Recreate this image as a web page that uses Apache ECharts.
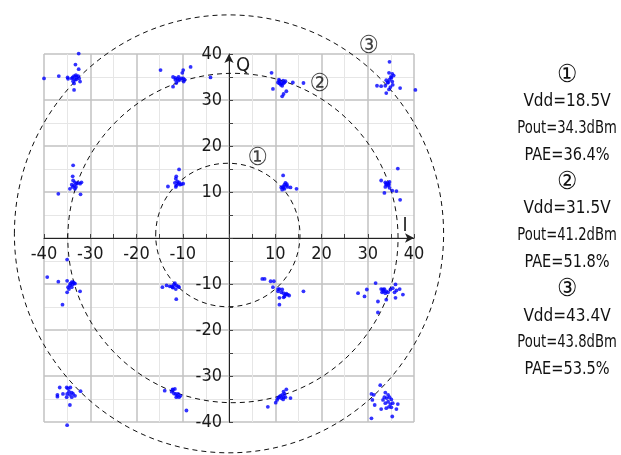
<!DOCTYPE html>
<html>
<head>
<meta charset="utf-8">
<script src="https://cdn.jsdelivr.net/npm/echarts@6/dist/echarts.min.js"></script>
<style>html,body{margin:0;padding:0;background:#fff}#c{width:621px;height:455px}</style>
</head>
<body>
<div id="c"></div>
<script>
// ---- data (I, Q) ----
const rowTop = [
  [-40.0,34.7],[-36.8,35.2],[-34.9,34.9],[-34.8,34.6],[-33.8,34.9],[-33.5,35.2],[-33.0,35.0],[-32.6,35.2],[-33.3,34.4],[-33.7,34.1],[-32.4,34.7],[-33.1,35.4],[-32.5,36.7],[-33.2,37.7],[-32.5,40.1],[-32.2,34.0],[-33.5,33.6],[-33.5,32.2],[-33.0,34.5],[-34.0,34.7],
  [-14.8,36.5],[-12.1,35.0],[-11.6,34.8],[-11.1,34.6],[-10.9,35.0],[-10.6,34.4],[-10.3,34.7],[-9.9,34.7],[-9.6,34.4],[-10.1,35.9],[-9.9,36.5],[-8.3,37.2],[-4.0,34.9],[-12.1,32.9],[-11.4,33.7],[-9.8,34.0],[-11.6,34.4],[-11.0,34.2],
  [9.2,35.9],[10.8,34.4],[10.9,34.1],[11.3,33.7],[11.7,34.2],[11.2,33.3],[11.7,33.6],[12.0,33.8],[11.5,33.1],[12.2,34.1],[10.6,33.8],[13.8,33.8],[16.1,33.7],[9.5,32.4],[12.4,31.9],[11.8,31.3],[11.5,30.8],[10.9,33.6],
  [34.7,38.3],[34.6,35.9],[35.3,35.7],[35.6,35.3],[35.1,34.8],[34.7,34.4],[34.0,34.3],[34.3,33.8],[35.3,34.0],[35.4,33.3],[34.9,32.8],[34.6,32.3],[34.0,31.5],[32.0,33.1],[32.9,33.0],[33.8,33.1],[37.0,32.6],[40.3,32.2],[34.4,33.8],[35.0,35.0]
];
const rowUpper = [
  [-33.7,15.8],[-33.8,13.4],[-33.7,12.5],[-33.3,12.1],[-33.0,11.8],[-33.5,11.4],[-33.1,11.1],[-33.8,11.1],[-34.4,10.7],[-32.6,12.0],[-31.9,12.1],[-32.2,11.8],[-33.3,10.7],[-36.9,9.6],[-32.1,9.5],[-34.0,11.6],
  [-10.8,14.9],[-11.4,13.4],[-11.5,12.9],[-11.2,12.3],[-11.7,12.0],[-11.0,11.8],[-10.6,11.6],[-11.4,11.4],[-10.3,11.7],[-9.9,11.8],[-13.2,11.2],[-11.5,11.1],[-10.8,12.1],
  [11.7,13.6],[12.2,12.0],[12.0,11.6],[11.7,11.2],[11.3,11.0],[11.8,10.9],[12.4,11.4],[11.5,10.5],[12.7,11.1],[13.3,11.0],[14.6,10.7],[12.0,10.7],[12.5,11.7],
  [36.5,15.1],[32.9,12.5],[33.8,12.1],[34.4,12.0],[34.7,12.2],[34.0,11.6],[34.4,11.4],[33.8,11.1],[34.7,10.9],[33.6,9.8],[35.3,10.3],[36.2,10.2],[37.0,8.3],[34.0,11.8],[34.6,11.6]
];
const rowLower = [
  [-35.0,-4.7],[-39.3,-8.5],[-36.9,-9.5],[-35.0,-9.3],[-34.0,-9.6],[-33.5,-9.8],[-33.8,-10.1],[-34.4,-10.3],[-34.8,-10.7],[-34.0,-10.7],[-34.6,-11.1],[-35.0,-11.8],[-32.2,-11.6],[-36.0,-14.5],[-33.7,-9.6],[-34.3,-9.9],[-33.3,-9.9],
  [-14.4,-10.7],[-13.5,-10.3],[-12.8,-10.5],[-12.2,-10.7],[-11.9,-10.1],[-11.7,-9.8],[-11.4,-10.3],[-11.0,-10.5],[-12.1,-10.8],[-11.5,-11.1],[-10.8,-10.7],[-11.4,-13.3],[-12.4,-10.5],
  [7.2,-8.9],[7.7,-8.9],[9.0,-9.4],[9.7,-9.4],[9.5,-10.7],[10.6,-11.1],[10.9,-11.1],[11.5,-11.2],[11.3,-11.8],[11.8,-12.0],[12.4,-12.1],[12.7,-12.3],[13.0,-12.5],[12.0,-12.7],[10.9,-13.0],[11.8,-12.9],[16.1,-11.6],[10.9,-14.5],[10.6,-11.6],[12.2,-12.3],
  [31.7,-9.8],[27.9,-12.0],[29.8,-11.2],[29.3,-12.7],[32.9,-11.1],[33.3,-11.2],[33.6,-11.1],[34.0,-11.6],[33.1,-11.8],[33.8,-12.0],[34.4,-11.8],[34.9,-11.2],[35.4,-10.9],[36.0,-10.1],[36.2,-11.4],[36.9,-11.1],[35.8,-11.8],[37.6,-12.3],[36.0,-13.0],[34.0,-13.4],[32.2,-13.8],[32.2,-16.2],[33.4,-11.6]
];
const rowBottom = [
  [-36.6,-32.5],[-37.1,-34.1],[-37.1,-34.5],[-35.1,-32.5],[-34.8,-32.7],[-34.3,-32.5],[-34.6,-33.4],[-34.0,-33.6],[-35.0,-33.9],[-34.4,-34.1],[-33.7,-33.9],[-33.3,-34.3],[-35.1,-34.6],[-34.0,-34.6],[-34.4,-36.3],[-32.1,-33.3],[-35.0,-40.7],[-35.9,-33.9],
  [-13.9,-33.2],[-12.2,-32.9],[-11.7,-32.8],[-12.4,-33.4],[-11.9,-33.8],[-11.5,-33.9],[-11.2,-34.3],[-10.8,-34.6],[-10.5,-34.3],[-11.4,-34.6],[-11.0,-33.9],[-9.2,-37.5],[-12.1,-33.0],
  [8.4,-36.7],[10.1,-35.8],[10.4,-35.2],[10.8,-34.6],[11.1,-34.3],[11.5,-34.1],[11.8,-34.6],[12.0,-33.9],[12.4,-32.9],[11.8,-33.4],[11.3,-34.8],[10.6,-34.8],[13.3,-34.8],[11.7,-35.1],[12.2,-34.6],
  [32.7,-32.0],[30.8,-33.9],[31.3,-34.1],[31.0,-35.2],[31.5,-36.3],[30.8,-39.2],[33.8,-33.6],[34.4,-34.1],[34.1,-34.8],[34.7,-34.6],[35.1,-35.1],[34.4,-35.6],[33.8,-35.9],[34.9,-36.1],[35.4,-35.9],[36.5,-36.1],[34.6,-36.7],[34.0,-37.0],[35.1,-36.8],[36.2,-37.2],[32.9,-37.2],[35.3,-38.8],[33.3,-35.2],[33.6,-34.6]
];
// dashed operating-point rings: centre (I, Q) and radii along I and Q
const ringCenterI = [-0.25, 0.85, 0.0];
const ringCenterQ = [0.65, 0.0, 0.9];
const ringRadiusI = [15.6, 35.7, 46.4];
const ringRadiusQ = [15.6, 35.8, 47.6];
const ringTags = ['①', '②', '③'];
const ringTagPos = [[6.2, 17.3], [19.6, 33.4], [30.2, 41.7]];
const axisTickValues = [-40, -30, -20, -10, 0, 10, 20, 30, 40];
const legendLines = ['①', 'Vdd=18.5V', 'Pout=34.3dBm', 'PAE=36.4%',
                     '②', 'Vdd=31.5V', 'Pout=41.2dBm', 'PAE=51.8%',
                     '③', 'Vdd=43.4V', 'Pout=43.8dBm', 'PAE=53.5%'];

// ---- chart ----
const FONT = '"DejaVu Sans Condensed", "DejaVu Sans", "Noto Sans CJK SC", sans-serif';
const W = 621, H = 455;
const G = {left: 44, right: 207, top: 54, bottom: 33};
const chart = echarts.init(document.getElementById('c'), null, {renderer: 'canvas'});
const points = rowTop.concat(rowUpper, rowLower, rowBottom);
const ringData = ringRadiusI.map((r, i) => [ringCenterI[i], ringCenterQ[i], r, ringRadiusQ[i]]);
const labelFmt = v => (v === 0 ? '' : String(v));

function axisCommon() {
  return {
    type: 'value', min: axisTickValues[0], max: axisTickValues[axisTickValues.length - 1], interval: 10,
    axisLine: {onZero: false, symbol: ['none', 'arrow'], symbolSize: [7, 9], lineStyle: {color: '#222', width: 1}},
    axisTick: {show: true, inside: true, length: 4, lineStyle: {color: '#444'}},
    minorTick: {show: true, splitNumber: 2, length: 4, lineStyle: {color: '#444'}},
    splitLine: {show: true, lineStyle: {color: '#c2c2c2', width: 1.5}},
    minorSplitLine: {show: true, lineStyle: {color: '#e6e6e6', width: 1}},
    axisLabel: {fontSize: 18, color: '#1a1a1a', fontFamily: FONT, formatter: labelFmt}
  };
}
const plotW = W - G.left - G.right, plotH = H - G.top - G.bottom;
const xAxis = axisCommon();
xAxis.position = 'bottom';
xAxis.offset = -plotH / 2;          // sit on Q = 0
xAxis.axisLabel.margin = 7;
xAxis.name = 'I';
xAxis.nameLocation = 'end';
xAxis.nameGap = -9;
xAxis.nameTextStyle = {fontSize: 19, color: '#1a1a1a', fontFamily: FONT, align: 'center', verticalAlign: 'bottom', padding: [0, 0, 2, 0]};
const yAxis = axisCommon();
yAxis.position = 'left';
yAxis.offset = -plotW / 2;          // sit on I = 0
yAxis.axisLabel.margin = 7;
yAxis.name = 'Q';
yAxis.nameLocation = 'end';
yAxis.nameGap = -2;
yAxis.nameTextStyle = {fontSize: 20, color: '#1a1a1a', fontFamily: FONT, align: 'left', verticalAlign: 'top', padding: [0, 0, 0, 7]};

const lineScale = t => (t.length === 1 ? 1 : t.indexOf('Pout') === 0 ? 0.86 : t.indexOf('PAE') === 0 ? 0.95 : 1);
const legendGraphics = legendLines.map((t, i) => ({
  type: 'text', x: 567, y: 75 + i * 26.8, scaleX: lineScale(t),
  style: {text: t, font: (t.length === 1 ? '25px ' : '17px ') + FONT, fill: '#111', textAlign: 'center', textVerticalAlign: 'middle'}
}));

chart.setOption({
  animation: false,
  backgroundColor: '#fff',
  grid: G,
  xAxis: xAxis,
  yAxis: yAxis,
  graphic: legendGraphics,
  series: [
    {
      type: 'custom', clip: false, silent: true, z: 3,
      data: ringData,
      renderItem: function (params, api) {
        const c = api.coord([api.value(0), api.value(1)]);
        const s = api.size([api.value(2), api.value(3)]);
        return {type: 'ellipse', shape: {cx: c[0], cy: c[1], rx: s[0], ry: s[1]},
          style: {fill: null, stroke: '#111', lineWidth: 1, lineDash: [5, 4]}};
      }
    },
    {
      type: 'scatter', clip: false, silent: true, z: 4,
      symbol: 'circle', symbolSize: 3.8,
      itemStyle: {color: '#0000ff'},
      data: points
    },
    {
      type: 'scatter', clip: false, silent: true, z: 5, symbolSize: 0,
      data: ringTagPos.map((p, i) => ({value: p, name: ringTags[i]})),
      label: {show: true, position: 'inside', formatter: '{b}', fontSize: 25, color: '#111', fontFamily: FONT}
    }
  ]
});
</script>
</body>
</html>
